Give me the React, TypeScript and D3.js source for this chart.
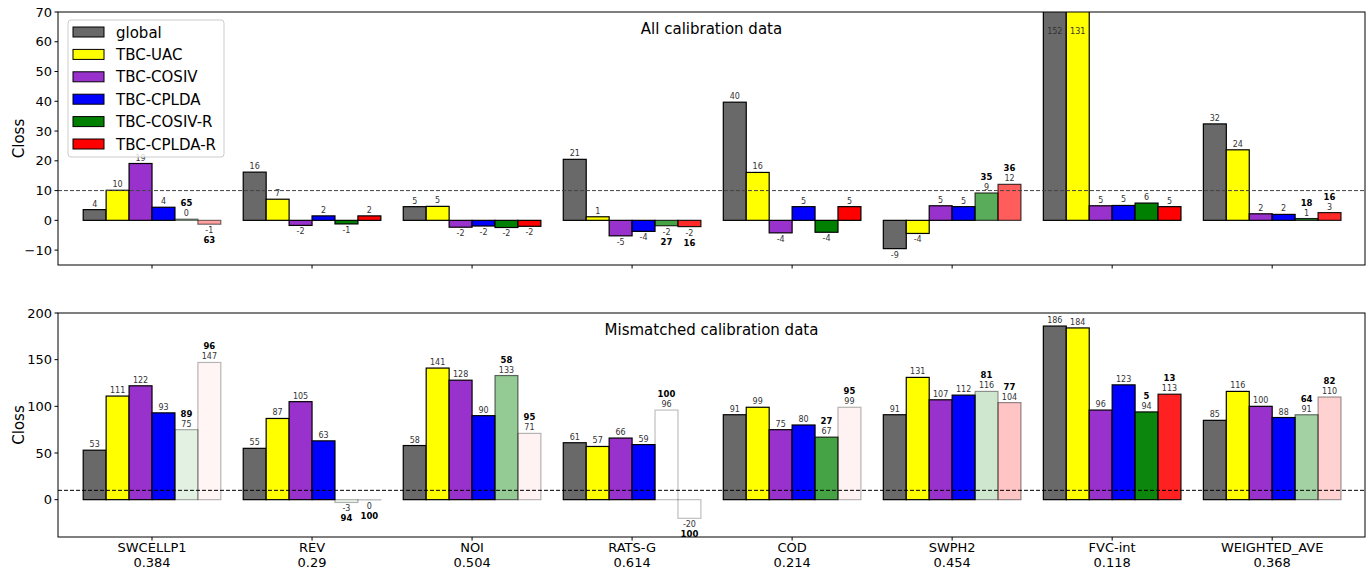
import React from 'react';
import * as d3 from 'd3';

const categories = ['SWCELLP1', 'REV', 'NOI', 'RATS-G', 'COD', 'SWPH2', 'FVC-int', 'WEIGHTED_AVE'];
const eers = ['0.384', '0.29', '0.504', '0.614', '0.214', '0.454', '0.118', '0.368'];
const systems = ['global', 'TBC-UAC', 'TBC-COSIV', 'TBC-CPLDA', 'TBC-COSIV-R', 'TBC-CPLDA-R'];
const colors = ['#696969', '#ffff00', '#9932cc', '#0000ff', '#008000', '#ff0000'];

// All calibration data
const allGlobal = [3.6, 16.2, 4.6, 20.5, 39.7, -9.5, 152, 32.4];
const allUAC = [10.1, 7.1, 4.7, 1.2, 16.1, -4.4, 131, 23.7];
const allCOSIV = [19.1, -1.7, -2.3, -5.2, -4.2, 4.9, 4.9, 2.2];
const allCPLDA = [4.4, 1.5, -1.9, -3.7, 4.6, 4.6, 5.0, 2.0];
const allCOSIVR = [0.4, -1.2, -2.4, -1.8, -4.0, 9.2, 5.8, 0.6];
const allCPLDAR = [-1.3, 1.5, -2.0, -2.1, 4.6, 12.1, 4.6, 2.6];
const allPctCOSIVR = [65, null, null, 27, null, 35, null, 18];
const allPctCPLDAR = [63, null, null, 16, null, 36, null, 16];

// Mismatched calibration data
const misGlobal = [53, 55, 58, 61, 91, 91, 186, 85];
const misUAC = [111, 87, 141, 57, 99, 131, 184, 116];
const misCOSIV = [122, 105, 128, 66, 75, 107, 96, 100];
const misCPLDA = [93, 63, 90, 59, 80, 112, 123, 88];
const misCOSIVR = [75, -3, 133, 96, 67, 116, 94, 91];
const misCPLDAR = [147, -0.3, 71, -20, 99, 104, 113, 110];
const misPctCOSIVR = [89, 94, 58, 100, 27, 81, 5, 64];
const misPctCPLDAR = [96, 100, 95, 100, 95, 77, 13, 82];

const allTicks = [-10, 0, 10, 20, 30, 40, 50, 60, 70];
const misTicks = [0, 50, 100, 150, 200];

const FONT = 'DejaVu Sans, sans-serif';
const W = 1366;
const H = 570;
const barW = 0.86 / 6;

const x = d3.scaleLinear().domain([-0.5875, 7.58]).range([58, 1365]);

type PanelProps = {
  id: string;
  title: string;
  series: number[][];
  pcts: (number | null)[][];
  domain: [number, number];
  range: [number, number];
  ticks: number[];
  refColor: string;
  showX: boolean;
};

const Panel = ({ id, title, series, pcts, domain, range, ticks, refColor, showX }: PanelProps) => {
  const y = d3.scaleLinear().domain(domain).range(range);
  const [x0, x1] = x.range();
  const top = range[1];
  const bottom = range[0];
  const bars: React.ReactNode[] = [];
  const labels: React.ReactNode[] = [];

  categories.forEach((c, i) => {
    series.forEach((vals, j) => {
      const v = vals[i];
      const pct = pcts[j] ? pcts[j][i] : null;
      const alpha = pct == null ? 1 : 1 - pct / 100;
      const edgeAlpha = pct == null ? 1 : 0.25 + 0.75 * alpha;
      const cx = i + (j - 2.5) * barW;
      const bx = x(cx - barW / 2);
      const bw = x(cx + barW / 2) - bx;
      const y0 = y(0);
      const yv = y(v);
      bars.push(
        <rect
          key={`b${i}-${j}`}
          x={bx}
          y={Math.min(y0, yv)}
          width={bw}
          height={Math.abs(y0 - yv)}
          fill={colors[j]}
          fillOpacity={alpha}
          stroke="#000"
          strokeOpacity={edgeAlpha}
          strokeWidth={1.2}
        />
      );
      const tx = x(cx);
      const txt = String(Math.abs(Math.round(v)) === 0 ? 0 : Math.round(v));
      if (v >= 0) {
        const base = v > domain[1] ? y(domain[1]) + 22 : yv - 3;
        labels.push(
          <text key={`l${i}-${j}`} x={tx} y={base} textAnchor="middle" fontSize={8} fill="#333">{txt}</text>
        );
        if (pct != null)
          labels.push(
            <text key={`p${i}-${j}`} x={tx} y={base - 10} textAnchor="middle" fontSize={8.5} fontWeight="bold" fill="#000">{pct}</text>
          );
      } else {
        const base = yv + 9;
        labels.push(
          <text key={`l${i}-${j}`} x={tx} y={base} textAnchor="middle" fontSize={8} fill="#333">{txt}</text>
        );
        if (pct != null)
          labels.push(
            <text key={`p${i}-${j}`} x={tx} y={base + 10} textAnchor="middle" fontSize={8.5} fontWeight="bold" fill="#000">{pct}</text>
          );
      }
    });
  });

  return (
    <g fontFamily={FONT}>
      <defs>
        <clipPath id={id}>
          <rect x={x0} y={top} width={x1 - x0} height={bottom - top} />
        </clipPath>
      </defs>
      <g clipPath={`url(#${id})`}>
        {bars}
        <line x1={x0} x2={x1} y1={y(10)} y2={y(10)} stroke={refColor} strokeWidth={1} strokeDasharray="4,2" />
        {labels}
      </g>
      <text x={(x0 + x1) / 2} y={top + 22} textAnchor="middle" fontSize={15} fill="#000">{title}</text>
      <rect x={x0} y={top} width={x1 - x0} height={bottom - top} fill="none" stroke="#000" strokeWidth={1} />
      {ticks.map(t => (
        <g key={t}>
          <line x1={x0 - 3.5} x2={x0} y1={y(t)} y2={y(t)} stroke="#000" />
          <text x={x0 - 6} y={y(t) + 4.5} textAnchor="end" fontSize={13} fill="#000">{t < 0 ? `\u2212${-t}` : t}</text>
        </g>
      ))}
      {categories.map((c, i) => (
        <g key={c}>
          <line x1={x(i)} x2={x(i)} y1={bottom} y2={bottom + 3.5} stroke="#000" />
          {showX && (
            <>
              <text x={x(i)} y={bottom + 15} textAnchor="middle" fontSize={13} fill="#000">{c}</text>
              <text x={x(i)} y={bottom + 30} textAnchor="middle" fontSize={13} fill="#000">{eers[i]}</text>
            </>
          )}
        </g>
      ))}
      <text transform={`translate(24, ${(top + bottom) / 2}) rotate(-90)`} textAnchor="middle" fontSize={15} fill="#000">Closs</text>
    </g>
  );
};

const Legend = () => {
  const lx = 68;
  const ly = 20;
  return (
    <g fontFamily={FONT}>
      <rect x={lx} y={ly} width={156} height={137} rx={3} fill="#fff" fillOpacity={0.8} stroke="#ccc" strokeWidth={1} />
      {systems.map((s, j) => (
        <g key={s}>
          <rect x={lx + 5} y={ly + 7 + j * 22.4} width={31} height={10} fill={colors[j]} stroke="#000" strokeWidth={1} />
          <text x={lx + 48} y={ly + 17.5 + j * 22.4} fontSize={15} fill="#000">{s}</text>
        </g>
      ))}
    </g>
  );
};

export default function App() {
  return (
    <svg width={W} height={H} style={{ position: 'absolute', left: 0, top: 0, background: '#fff' }}>
      <Panel
        id="clipAll"
        title="All calibration data"
        series={[allGlobal, allUAC, allCOSIV, allCPLDA, allCOSIVR, allCPLDAR]}
        pcts={[null as any, null as any, null as any, null as any, allPctCOSIVR, allPctCPLDAR]}
        domain={[-15, 70]}
        range={[265, 12]}
        ticks={allTicks}
        refColor="#444"
        showX={false}
      />
      <Legend />
      <Panel
        id="clipMis"
        title="Mismatched calibration data"
        series={[misGlobal, misUAC, misCOSIV, misCPLDA, misCOSIVR, misCPLDAR]}
        pcts={[null as any, null as any, null as any, null as any, misPctCOSIVR, misPctCPLDAR]}
        domain={[-40, 200]}
        range={[537, 313]}
        ticks={misTicks}
        refColor="#000"
        showX={true}
      />
    </svg>
  );
}
